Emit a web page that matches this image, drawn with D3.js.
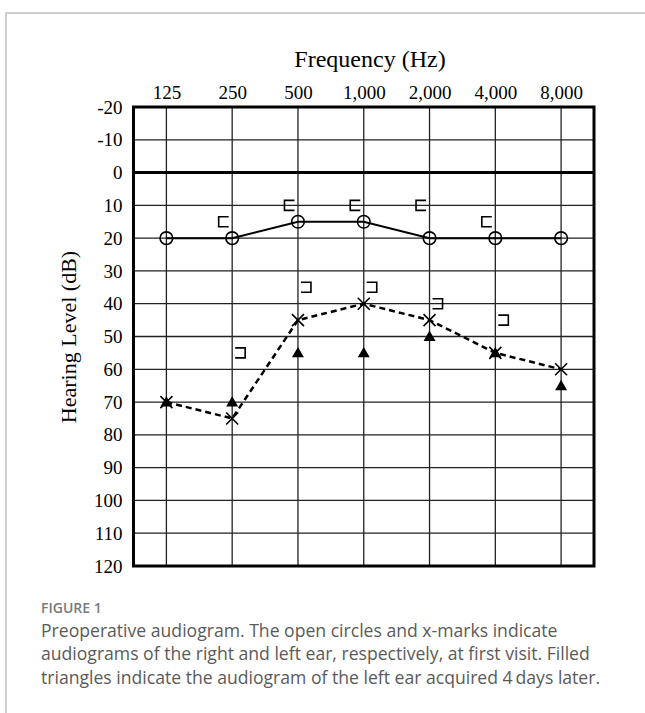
<!DOCTYPE html>
<html>
<head>
<meta charset="utf-8">
<script src="https://cdn.jsdelivr.net/npm/d3@7"></script>
<style>
  body { margin: 0; background: #fff; }
  svg { display: block; }
</style>
</head>
<body>
<div id="chart"></div>
<script>
/* Preoperative audiogram - right ear (circles), left ear (x), left ear 4 days later (triangles) */

const freqs = ["125", "250", "500", "1,000", "2,000", "4,000", "8,000"];
const dbTicks = [-20, -10, 0, 10, 20, 30, 40, 50, 60, 70, 80, 90, 100, 110, 120];

const rightAir = [20, 20, 15, 15, 20, 20, 20];      // open circles
const leftAir = [70, 75, 45, 40, 45, 55, 60];       // x-marks
const leftLater = [70, 70, 55, 55, 50, 55, 65];     // filled triangles
const rightBone = [null, 15, 10, 10, 10, 15, null]; // [ brackets
const leftBone = [null, 55, 35, 35, 40, 45, null];  // ] brackets

const captionTitle = "FIGURE 1";
const captionLines = [
    "Preoperative audiogram. The open circles and x-marks indicate",
    "audiograms of the right and left ear, respectively, at first visit. Filled",
    "triangles indicate the audiogram of the left ear acquired 4\u2009days later."
];

const width = 645,
    height = 713,
    margin = ({top: 107, right: 51, bottom: 147, left: 133.5});

let svg = d3.select('#chart')
    .append('svg')
    .attr('width', width)
    .attr('height', height);

// light gray panel border (top + left)
svg.append('path')
    .attr('d', `M6,${height} V13 H${width}`)
    .attr('fill', 'none')
    .attr('stroke', '#bdbdbd')
    .attr('stroke-width', 1.5);

let x = d3.scalePoint()
    .domain(freqs)
    .range([margin.left, width - margin.right])
    .padding(0.5);

let y = d3.scaleLinear()
    .domain([-20, 120])
    .range([margin.top, height - margin.bottom]);

const serif = '"Liberation Serif", "Times New Roman", serif';

// grid
svg.append('g')
    .selectAll('line')
    .data(freqs)
    .join('line')
    .attr('x1', d => x(d)).attr('x2', d => x(d))
    .attr('y1', y(-20)).attr('y2', y(120))
    .attr('stroke', '#222')
    .attr('stroke-width', 1.3);

svg.append('g')
    .selectAll('line')
    .data(dbTicks)
    .join('line')
    .attr('x1', margin.left).attr('x2', width - margin.right)
    .attr('y1', d => y(d)).attr('y2', d => y(d))
    .attr('stroke', d => d === 0 ? '#000' : '#222')
    .attr('stroke-width', d => d === 0 ? 3 : 1.3);

// outer frame
svg.append('rect')
    .attr('x', margin.left)
    .attr('y', y(-20))
    .attr('width', width - margin.right - margin.left)
    .attr('height', y(120) - y(-20))
    .attr('fill', 'none')
    .attr('stroke', '#000')
    .attr('stroke-width', 3);

// axes
const xAxis = g => g
    .attr('transform', `translate(0, ${y(-20) - 8})`)
    .call(d3.axisTop(x).tickSize(0).tickPadding(0))
    .call(g => g.select('.domain').remove());

const yAxis = g => g
    .attr('transform', `translate(${margin.left - 11}, 0)`)
    .call(d3.axisLeft(y).tickValues(dbTicks).tickFormat(d => String(d)).tickSize(0).tickPadding(0))
    .call(g => g.select('.domain').remove());

svg.append('g').call(xAxis)
    .selectAll('text')
    .attr('font-family', serif)
    .attr('font-size', 19)
    .attr('fill', '#000');

svg.append('g').call(yAxis)
    .selectAll('text')
    .attr('font-family', serif)
    .attr('font-size', 19)
    .attr('fill', '#000');

svg.append('text')
    .attr('x', 370)
    .attr('y', 67)
    .attr('text-anchor', 'middle')
    .attr('font-family', serif)
    .attr('font-size', 24)
    .text('Frequency (Hz)');

svg.append('text')
    .attr('transform', 'translate(76, 337) rotate(-90)')
    .attr('text-anchor', 'middle')
    .attr('font-family', serif)
    .attr('font-size', 22)
    .text('Hearing Level (dB)');

// lines
const line = d3.line()
    .x((d, i) => x(freqs[i]))
    .y(d => y(d));

svg.append('path')
    .datum(rightAir)
    .attr('d', line)
    .attr('fill', 'none')
    .attr('stroke', '#000')
    .attr('stroke-width', 2);

svg.append('path')
    .datum(leftAir)
    .attr('d', line)
    .attr('fill', 'none')
    .attr('stroke', '#000')
    .attr('stroke-width', 2.5)
    .attr('stroke-dasharray', '6,4');

// open circles (right ear)
svg.append('g')
    .selectAll('circle')
    .data(rightAir)
    .join('circle')
    .attr('cx', (d, i) => x(freqs[i]))
    .attr('cy', d => y(d))
    .attr('r', 6.3)
    .attr('fill', 'none')
    .attr('stroke', '#000')
    .attr('stroke-width', 1.6);

// filled triangles (left ear, 4 days later)
const tri = d3.symbol().type(d3.symbolTriangle).size(62);
svg.append('g')
    .selectAll('path')
    .data(leftLater)
    .join('path')
    .attr('transform', (d, i) => `translate(${x(freqs[i])}, ${y(d) + 1})`)
    .attr('d', tri)
    .attr('fill', '#000');

// x-marks (left ear)
svg.append('g')
    .selectAll('path')
    .data(leftAir)
    .join('path')
    .attr('d', (d, i) => {
        const cx = x(freqs[i]), cy = y(d), s = 6;
        return `M${cx - s},${cy - s}L${cx + s},${cy + s}M${cx - s},${cy + s}L${cx + s},${cy - s}`;
    })
    .attr('stroke', '#000')
    .attr('stroke-width', 1.6);

// bone conduction brackets
const bw = 10, bh = 10;
svg.append('g')
    .selectAll('path')
    .data(rightBone.map((d, i) => ({v: d, f: freqs[i]})).filter(d => d.v !== null))
    .join('path')
    .attr('d', d => {
        const r = x(d.f) - 3.5, cy = y(d.v);
        return `M${r},${cy - bh / 2}H${r - bw}V${cy + bh / 2}H${r}`;
    })
    .attr('fill', 'none')
    .attr('stroke', '#000')
    .attr('stroke-width', 1.6);

svg.append('g')
    .selectAll('path')
    .data(leftBone.map((d, i) => ({v: d, f: freqs[i]})).filter(d => d.v !== null))
    .join('path')
    .attr('d', d => {
        const l = x(d.f) + 3, cy = y(d.v);
        return `M${l},${cy - bh / 2}H${l + bw}V${cy + bh / 2}H${l}`;
    })
    .attr('fill', 'none')
    .attr('stroke', '#000')
    .attr('stroke-width', 1.6);

// caption
const sans = '"Open Sans", "Noto Sans", sans-serif';
svg.append('text')
    .attr('x', 41)
    .attr('y', 613)
    .attr('font-family', sans)
    .attr('font-size', 14)
    .attr('font-weight', 600)
    .attr('fill', '#7a7a7a')
    .text(captionTitle);

svg.append('g')
    .selectAll('text')
    .data(captionLines)
    .join('text')
    .attr('x', 41)
    .attr('y', (d, i) => 637 + i * 23.3)
    .attr('font-family', sans)
    .attr('font-size', 17.6)
    .attr('fill', '#5a5a5a')
    .text(d => d);
</script>
</body>
</html>
